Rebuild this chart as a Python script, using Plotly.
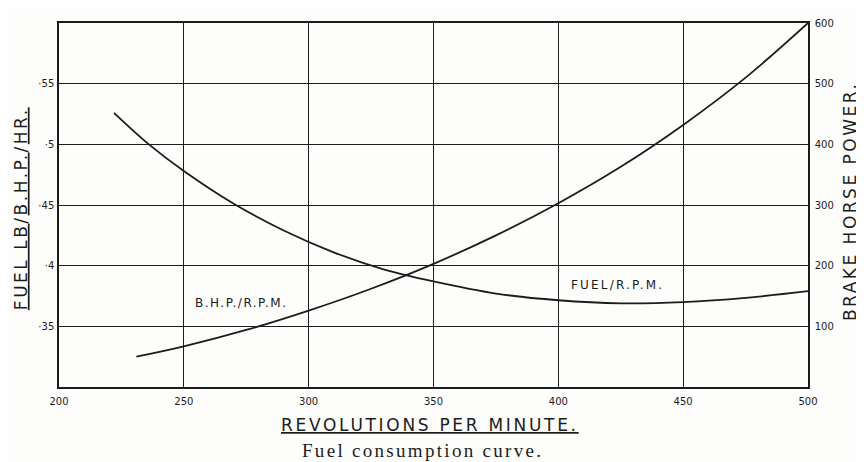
import plotly.graph_objects as go

# Fuel consumption (lb / BHP / hr) vs RPM  -- left axis
fuel_rpm = [222, 236, 250, 270, 290, 310, 330, 350, 375, 400, 425, 450, 475, 500]
fuel_val = [0.526, 0.500, 0.478, 0.451, 0.429, 0.411, 0.397, 0.387, 0.377, 0.3715, 0.369, 0.370, 0.3735, 0.379]

# Brake horse power vs RPM  -- right axis
bhp_rpm = [231, 250, 275, 300, 325, 350, 375, 400, 425, 450, 475, 500]
bhp_val = [50, 67, 94, 126, 162, 203, 250, 303, 363, 432, 510, 600]

x_ticks = [200, 250, 300, 350, 400, 450, 500]
x_labels = ["200", "250", "300", "350", "400", "450", "500"]
left_ticks = [0.35, 0.40, 0.45, 0.50, 0.55]
left_labels = ["·35", "·4", "·45", "·5", "·55"]
right_ticks = [100, 200, 300, 400, 500, 600]
right_labels = ["100", "200", "300", "400", "500", "600"]

INK = "#1c1c1c"
SANS = "DejaVu Sans"


def spaced(txt, px):
    return '<span style="letter-spacing:%spx">%s</span>' % (px, txt)


fig = go.Figure()
fig.add_trace(go.Scatter(x=fuel_rpm, y=fuel_val, mode="lines", line=dict(color=INK, width=1.8, shape="spline"),
                         yaxis="y", showlegend=False, hoverinfo="skip"))
fig.add_trace(go.Scatter(x=bhp_rpm, y=bhp_val, mode="lines", line=dict(color=INK, width=1.8, shape="spline"),
                         yaxis="y2", showlegend=False, hoverinfo="skip"))

fig.update_layout(
    width=864, height=462,
    margin=dict(l=50.5, r=63.7, t=9, b=83),
    paper_bgcolor="#fdfdfb", plot_bgcolor="#fdfdfb",
    xaxis=dict(range=[200, 500], tickvals=x_ticks, ticktext=x_labels, showgrid=True, gridcolor=INK, gridwidth=1.3,
               showline=True, linecolor=INK, linewidth=1.5, mirror=True, ticks="", zeroline=False,
               tickfont=dict(family=SANS, size=10, color=INK), ticklabelstandoff=4),
    yaxis=dict(range=[0.3, 0.6], tickvals=left_ticks, ticktext=left_labels, showgrid=True, gridcolor=INK, gridwidth=1.3,
               showline=True, linecolor=INK, linewidth=1.5, ticks="", zeroline=False,
               tickfont=dict(family=SANS, size=10, color=INK), ticklabelstandoff=1),
    yaxis2=dict(range=[0, 600], tickvals=right_ticks, ticktext=right_labels, overlaying="y", side="right",
                showgrid=False, showline=True, linecolor=INK, linewidth=1.5, ticks="", zeroline=False,
                tickfont=dict(family=SANS, size=10, color=INK), ticklabelstandoff=3),
)

annos = [
    dict(text=spaced("B.H.P./R.P.M.", 1.5), x=273, y=0.369, xref="x", yref="y", showarrow=False,
         font=dict(family=SANS, size=12, color=INK)),
    dict(text=spaced("FUEL/R.P.M.", 2.2), x=423.5, y=0.384, xref="x", yref="y", showarrow=False,
         font=dict(family=SANS, size=12, color=INK)),
    dict(text=spaced("<u>FUEL LB</u>/<u>B.H.P.</u>/<u>HR.</u>", 2.5), x=0, y=0.49, xref="paper", yref="paper",
         xanchor="center", yanchor="middle", xshift=-38.5, showarrow=False, textangle=-90,
         font=dict(family=SANS, size=17, color=INK)),
    dict(text=spaced("BRAKE HORSE POWER.", 2.5), x=1, y=0.508, xref="paper", yref="paper",
         xanchor="center", yanchor="middle", xshift=42, showarrow=False, textangle=-90,
         font=dict(family=SANS, size=17, color=INK)),
    dict(text=spaced("<u>REVOLUTIONS PER MINUTE.</u>", 2.7), x=0.495, y=0, xref="paper", yref="paper",
         xanchor="center", yshift=-50, showarrow=False, font=dict(family=SANS, size=17, color=INK)),
    dict(text=spaced("Fuel consumption curve.", 2.3), x=0.485, y=0, xref="paper", yref="paper",
         xanchor="center", yshift=-76, showarrow=False, font=dict(family="Liberation Serif", size=19, color=INK)),
]
fig.update_layout(annotations=annos)

fig.write_html("out.html")
